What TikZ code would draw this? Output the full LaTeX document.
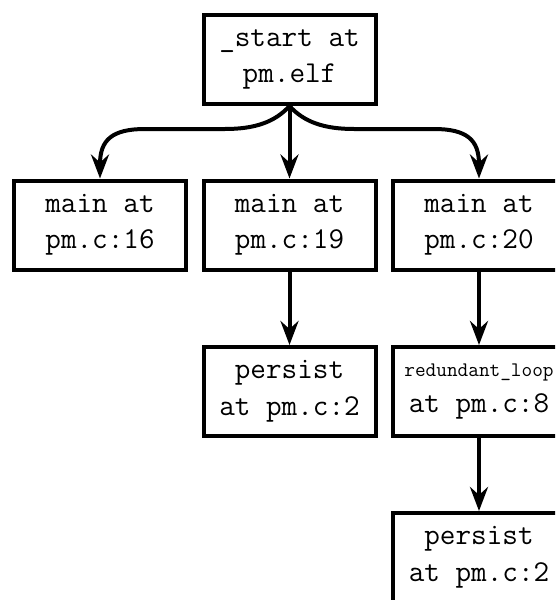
\documentclass[tikz,border=0pt]{standalone}
\usepackage{fontspec}
\usetikzlibrary{arrows.meta}
\tikzset{
  frame/.style={draw, line width=4pt, rectangle, minimum width=172pt, minimum height=89pt,
    inner sep=0pt, align=center, font=\ttfamily\fontsize{30.3}{36.5}\selectfont},
  edge/.style={line width=4pt, -{Stealth[length=24pt,width=18pt,inset=8pt]}}
}
\begin{document}
\begin{tikzpicture}[x=1pt,y=-1pt]
\useasboundingbox (0,0) rectangle (555,600);
\clip (0,0) rectangle (555,600);
\node[frame] (start) at (289.5,59.5) {\_start at\\pm.elf};
\node[frame] (m16) at (100,225) {main at\\pm.c:16};
\node[frame] (m19) at (289.5,225) {main at\\pm.c:19};
\node[frame] (m20) at (479,225) {main at\\pm.c:20};
\node[frame] (p1) at (289.5,391.5) {persist\\at pm.c:2};
\node[frame] (rl) at (479,391.5) {{\fontsize{20.7}{36.5}\selectfont redundant\_loop}\\at pm.c:8};
\node[frame] (p2) at (479,557.5) {persist\\at pm.c:2};
\coordinate (l1) at (225,129);
\coordinate (l2) at (145,129);
\coordinate (r1) at (354,129);
\coordinate (r2) at (434,129);
\draw[edge] (start.south) .. controls (275,122) and (255,129) .. (l1) -- (l2)
  .. controls (112,129) and (100,140) .. (m16.north);
\draw[edge] (start.south) .. controls (304,122) and (324,129) .. (r1) -- (r2)
  .. controls (467,129) and (479,140) .. (m20.north);
\draw[edge] (start.south) -- (m19.north);
\draw[edge] (m19.south) -- (p1.north);
\draw[edge] (m20.south) -- (rl.north);
\draw[edge] (rl.south) -- (p2.north);
\end{tikzpicture}
\end{document}
